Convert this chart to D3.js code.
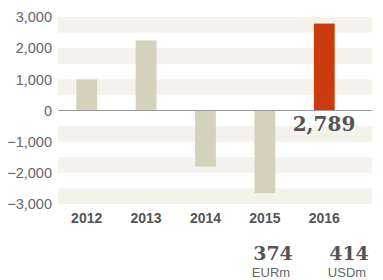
<!DOCTYPE html>
<html>
<head>
<meta charset="utf-8">
<script src="https://cdnjs.cloudflare.com/ajax/libs/d3/7.8.5/d3.min.js"></script>
<style>
  body { margin: 0; background: #fff; }
  svg { display: block; }
</style>
</head>
<body>
<div id="chart"></div>
<script>
const years = ['2012', '2013', '2014', '2015', '2016'];
const values = [1000, 2250, -1800, -2650, 2789];
const ticks = [3000, 2000, 1000, 0, -1000, -2000, -3000];
const stripes = [[2500, 3000], [1500, 2000], [500, 1000], [-1000, -500], [-2000, -1500], [-3000, -2500]];
const totals = [{ value: '374', unit: 'EURm' }, { value: '414', unit: 'USDm' }];

const width = 383, height = 280;
const svg = d3.select('#chart').append('svg')
    .attr('width', width)
    .attr('height', height);

const y = d3.scaleLinear().domain([-3000, 3000]).range([204, 17]);
const x = d3.scaleBand().domain(years).range([57, 354]).paddingInner(0.65).paddingOuter(0.325);

// background stripes
svg.append('g').selectAll('rect')
    .data(stripes)
    .enter().append('rect')
    .attr('x', 58)
    .attr('width', 314)
    .attr('y', d => y(d[1]))
    .attr('height', d => y(d[0]) - y(d[1]))
    .attr('fill', '#f3f2eb');

// y tick labels
svg.append('g').selectAll('text')
    .data(ticks)
    .enter().append('text')
    .attr('x', 52)
    .attr('y', d => y(d))
    .attr('dy', '0.36em')
    .attr('text-anchor', 'end')
    .attr('font-family', 'Liberation Sans, Arial, sans-serif')
    .attr('font-size', 14.5)
    .attr('fill', '#666')
    .text(d => d3.format(',')(d));

// bars
svg.append('g').selectAll('rect')
    .data(values)
    .enter().append('rect')
    .attr('x', (d, i) => x(years[i]))
    .attr('width', x.bandwidth())
    .attr('y', d => y(Math.max(0, d)))
    .attr('height', d => Math.abs(y(d) - y(0)))
    .attr('fill', (d, i) => i === values.length - 1 ? '#cc3b0e' : '#d4d2bd');

// zero line
svg.append('line')
    .attr('x1', 58).attr('x2', 372)
    .attr('y1', y(0)).attr('y2', y(0))
    .attr('stroke', '#999')
    .attr('stroke-width', 1);

// year labels
svg.append('g').selectAll('text')
    .data(years)
    .enter().append('text')
    .attr('x', d => x(d) + x.bandwidth() / 2)
    .attr('y', 223)
    .attr('text-anchor', 'middle')
    .attr('font-family', 'Liberation Sans, Arial, sans-serif')
    .attr('font-size', 14)
    .attr('font-weight', 'bold')
    .attr('fill', '#555')
    .text(d => d);

// value label for last bar
svg.append('text')
    .attr('x', 324)
    .attr('y', 131)
    .attr('text-anchor', 'middle')
    .attr('font-family', 'DejaVu Serif, Georgia, serif')
    .attr('font-size', 20)
    .attr('font-weight', 'bold')
    .attr('fill', '#555')
    .text(d3.format(',')(values[values.length - 1]));

// totals below
const tot = svg.append('g').selectAll('g')
    .data(totals)
    .enter().append('g')
    .attr('transform', (d, i) => `translate(${[273, 349][i]},0)`);

tot.append('text')
    .attr('y', 260)
    .attr('text-anchor', 'middle')
    .attr('font-family', 'DejaVu Serif, Georgia, serif')
    .attr('font-size', 19)
    .attr('font-weight', 'bold')
    .attr('fill', '#555')
    .text(d => d.value);

tot.append('text')
    .attr('x', -2)
    .attr('y', 277)
    .attr('text-anchor', 'middle')
    .attr('font-family', 'Liberation Sans, Arial, sans-serif')
    .attr('font-size', 13)
    .attr('fill', '#666')
    .text(d => d.unit);
</script>
</body>
</html>
